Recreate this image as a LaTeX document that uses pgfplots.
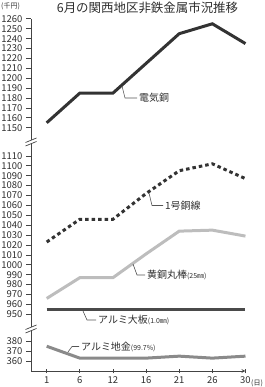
\documentclass[border=0pt]{standalone}
\usepackage{fontspec}
\setmainfont{Noto Sans CJK JP}
\usepackage{pgfplots}
\pgfplotsset{compat=1.18}
\definecolor{textc}{HTML}{2E2E2E}
\definecolor{axisc}{HTML}{444444}
\definecolor{cDark}{HTML}{333333}
\definecolor{cLight}{HTML}{BDBDBD}
\definecolor{cPlate}{HTML}{4A4A4A}
\definecolor{cMid}{HTML}{8A8A8A}
\definecolor{leadc}{HTML}{555555}
\newcommand\lab{\fontsize{10}{12}\selectfont}
\newcommand\sm{\fontsize{7}{8}\selectfont}
\pgfplotsset{brk/.style={
  x=33.13bp, y=0.99bp,
  xmin=-0.474, xmax=6,
  enlargelimits=false, clip=false,
  scale only axis, anchor=south west,
  axis y line=left,
  axis line style={-, draw=axisc, line width=0.8bp},
  tick align=outside, major tick length=5bp,
  tick style={draw=axisc, line width=0.7bp},
  ticklabel style={font=\fontsize{9.5}{10}\selectfont, text=textc},
  /pgf/number format/assume math mode=true,
  /pgf/number format/set thousands separator={},
  /pgf/number format/fixed,
}}
\begin{document}
\begin{tikzpicture}
\useasboundingbox (0,0) rectangle (265bp,387bp);
% upper section
\begin{axis}[brk, at={(31bp,245bp)}, axis x line=none,
  ymin=1135.6, ymax=1260, ytick={1150,1160,...,1260}]
\addplot[cDark, line width=3bp] coordinates {(0,1155)(1,1185)(2,1185)(3,1215)(4,1245)(5,1255)(6,1235)};
\end{axis}
% middle section
\begin{axis}[brk, at={(31bp,58bp)}, axis x line=none,
  ymin=935.15, ymax=1124.0, ytick={950,960,...,1110}]
\addplot[cDark, line width=3bp, dash pattern=on 3.5bp off 3bp] coordinates {(0,1023)(1,1046)(2,1046)(3,1072)(4,1095)(5,1102)(6,1087)};
\addplot[cLight, line width=3bp] coordinates {(0,966)(1,987)(2,987)(3,1011)(4,1034)(5,1035)(6,1029)};
\addplot[cPlate, line width=3bp] coordinates {(0,955)(1,955)(2,955)(3,955)(4,955)(5,955)(6,955)};
\end{axis}
% lower section
\begin{axis}[brk, at={(31bp,16bp)}, axis x line=bottom,
  ymin=350, ymax=392.4, ytick={360,370,380},
  xtick={0,1,2,3,4,5,6}, xticklabels={1,6,12,16,21,26,30}]
\addplot[cMid, line width=3bp] coordinates {(0,375)(1,363)(2,363)(3,363)(4,365)(5,363)(6,365)};
\end{axis}
\begin{scope}[x=1bp,y=1bp]
% axis breaks
\foreach \yb in {245,58}{
  \fill[white] (25.5,\yb-4)--(36.5,\yb+0.5)--(36.5,\yb+4)--(25.5,\yb-0.5)--cycle;
  \draw[axisc, line width=0.7bp] (25.5,\yb-4)--(36.5,\yb+0.5);
  \draw[axisc, line width=0.7bp] (25.5,\yb-0.5)--(36.5,\yb+4);
}
% title and units
\node[text=textc] at (147.5,379) {\fontsize{12.5}{14}\selectfont 6月の関西地区非鉄金属市況推移};
\node[text=textc, anchor=west, inner sep=0] at (1,380.5) {\sm (千円)};
\node[text=textc, anchor=west, inner sep=0] at (251,4) {\sm (日)};
% labels
\draw[leadc, line width=0.6bp] (122,301)--(125,289)--(137,289);
\node[text=textc, anchor=west, inner sep=0] at (139,289) {\lab 電気銅};
\draw[leadc, line width=0.6bp] (149,194)--(152,181.5)--(163,181.5);
\node[text=textc, anchor=west, inner sep=0] at (165,181.5) {\lab 1号銅線};
\draw[leadc, line width=0.6bp] (133,123)--(137,112)--(145,112);
\node[text=textc, anchor=west, inner sep=0] at (147,112) {\lab 黄銅丸棒{\sm (25㎜)}};
\draw[leadc, line width=0.6bp] (83,76)--(87,67)--(96,67);
\node[text=textc, anchor=west, inner sep=0] at (98,67) {\lab アルミ大板{\sm (1.0㎜)}};
\draw[leadc, line width=0.6bp] (68,35)--(72,40.5)--(79,40.5);
\node[text=textc, anchor=west, inner sep=0] at (81,40.5) {\lab アルミ地金{\sm (99.7\%)}};
\end{scope}
\end{tikzpicture}
\end{document}
